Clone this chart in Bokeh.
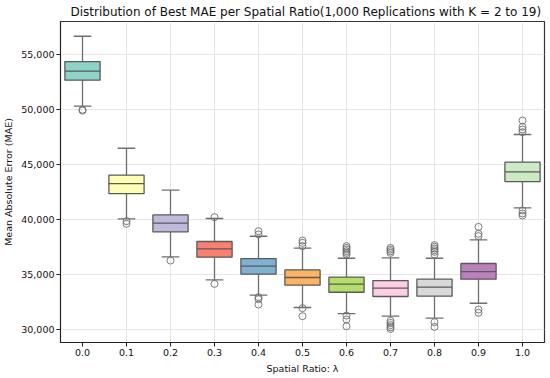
import numpy as np
from bokeh.plotting import figure
from bokeh.models import ColumnDataSource, FixedTicker, NumeralTickFormatter
from bokeh.transform import dodge
from bokeh.embed import file_html
from bokeh.resources import INLINE

categories = ["0.0", "0.1", "0.2", "0.3", "0.4", "0.5", "0.6", "0.7", "0.8", "0.9", "1.0"]
colors = ["#8dd3c7", "#ffffb3", "#bebada", "#fb8072", "#80b1d3", "#fdb462",
          "#b3de69", "#fccde5", "#d9d9d9", "#bc80bd", "#ccebc5"]
lower_whisker = [50300, 40060, 36600, 34520, 33120, 32000, 31450, 31210, 31030, 32390, 41060]
q1 = [52670, 42360, 38880, 36580, 35030, 34030, 33390, 33000, 33030, 34580, 43450]
median = [53490, 43270, 39670, 37330, 35760, 34730, 34120, 33760, 33850, 35270, 44330]
q3 = [54360, 44030, 40420, 38000, 36450, 35420, 34760, 34450, 34580, 36000, 45210]
upper_whisker = [56660, 46480, 42670, 40090, 38480, 37390, 36480, 36510, 36480, 38150, 47730]
outliers = [
    [49900, 49980],
    [39850, 39610],
    [36270],
    [40210, 34150],
    [38940, 38640, 32940, 32760, 32270],
    [38090, 37880, 37580, 31940, 31210],
    [37580, 37420, 37270, 37120, 36970, 36820, 31270, 30910, 30300],
    [37420, 37270, 37120, 36970, 30800, 30600, 30400, 30200, 30050],
    [37670, 37520, 37360, 37210, 37060, 36820, 30670, 30240],
    [39330, 38700, 38490, 31820, 31520],
    [49000, 48420, 48180, 47940, 40820, 40550, 40360],
]

FONT = "DejaVu Sans"
edge = "#5a5a5a"
whisk = "#6e6e6e"

src = ColumnDataSource(dict(cat=categories, lw=lower_whisker, q1=q1, med=median,
                            q3=q3, uw=upper_whisker, color=colors))
ox, oy = [], []
for c, vals in zip(categories, outliers):
    for v in vals:
        ox.append(c)
        oy.append(v)
osrc = ColumnDataSource(dict(x=ox, y=oy))

p = figure(x_range=categories, y_range=(28820, 58000), frame_width=484, frame_height=321,
           output_backend="svg", toolbar_location=None,
           title="Distribution of Best MAE per Spatial Ratio(1,000 Replications with K = 2 to 19)",
           x_axis_label="Spatial Ratio: \u03bb", y_axis_label="Mean Absolute Error (MAE)",
           min_border_left=48, min_border_right=2, min_border_top=0, min_border_bottom=0)

# whisker stems
p.segment(x0="cat", y0="lw", x1="cat", y1="q1", source=src, line_color=whisk, line_width=1.3)
p.segment(x0="cat", y0="q3", x1="cat", y1="uw", source=src, line_color=whisk, line_width=1.3)
# caps
p.segment(x0=dodge("cat", -0.2, range=p.x_range), y0="lw", x1=dodge("cat", 0.2, range=p.x_range), y1="lw",
          source=src, line_color=whisk, line_width=1.3)
p.segment(x0=dodge("cat", -0.2, range=p.x_range), y0="uw", x1=dodge("cat", 0.2, range=p.x_range), y1="uw",
          source=src, line_color=whisk, line_width=1.3)
# boxes
p.vbar(x="cat", width=0.8, bottom="q1", top="q3", source=src, fill_color="color",
       line_color=edge, line_width=1.3)
# medians
p.segment(x0=dodge("cat", -0.4, range=p.x_range), y0="med", x1=dodge("cat", 0.4, range=p.x_range), y1="med",
          source=src, line_color=edge, line_width=1.3)
# outliers
p.scatter(x="x", y="y", source=osrc, size=7, fill_color=None, line_color=whisk, line_width=0.9)

p.title.text_font = FONT
p.title.text_font_size = "12px"
p.title.text_font_style = "normal"
p.title.align = "left"
p.title.offset = 10
p.title.text_color = "#111111"
p.title.standoff = 5

for ax in (p.xaxis[0], p.yaxis[0]):
    ax.axis_label_text_font = FONT
    ax.axis_label_text_font_size = "9.5px"
    ax.axis_label_text_font_style = "normal"
    ax.axis_label_text_color = "#111111"
    ax.major_label_text_font = FONT
    ax.major_label_text_font_size = "9.5px"
    ax.major_label_text_color = "#111111"
    ax.axis_line_color = "#222222"
    ax.major_tick_line_color = "#222222"
    ax.major_tick_out = 4
    ax.major_tick_in = 0
    ax.minor_tick_line_color = None
    ax.major_label_standoff = 2
    ax.axis_label_standoff = 4

p.yaxis.ticker = FixedTicker(ticks=[30000, 35000, 40000, 45000, 50000, 55000])
p.yaxis.formatter = NumeralTickFormatter(format="0,0")

p.xgrid.grid_line_color = "#e6e6e6"
p.ygrid.grid_line_color = "#e6e6e6"
p.outline_line_color = "#333333"
p.outline_line_width = 1.2
p.x_range.range_padding = 0

open("out.html", "w").write(file_html(p, INLINE))
